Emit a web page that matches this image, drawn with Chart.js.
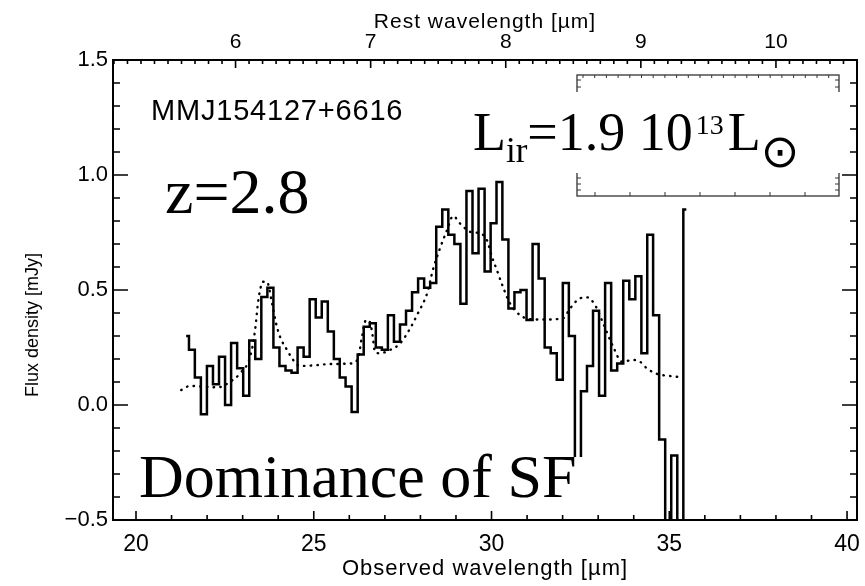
<!DOCTYPE html>
<html>
<head>
<meta charset="utf-8">
<script src="https://cdn.jsdelivr.net/npm/chart.js@4.4.1/dist/chart.umd.min.js"></script>
<style>
  html, body { margin: 0; padding: 0; background: #fff; }
</style>
</head>
<body>
<canvas id="spectrum" width="865" height="586"></canvas>
<script>
// Observed wavelength of each spectral bin [micron]
var wavelength = [21.41, 21.57, 21.74, 21.91, 22.08, 22.25, 22.42, 22.59, 22.76, 22.93,
                  23.10, 23.27, 23.44, 23.61, 23.78, 23.95, 24.12, 24.29, 24.46, 24.63,
                  24.80, 24.97, 25.14, 25.31, 25.48, 25.65, 25.81, 25.98, 26.15, 26.32,
                  26.49, 26.66, 26.83, 27.00, 27.17, 27.34, 27.51, 27.68, 27.85, 28.02,
                  28.19, 28.36, 28.53, 28.70, 28.87, 29.04, 29.21, 29.38, 29.55, 29.72,
                  29.89, 30.06, 30.22, 30.39, 30.56, 30.73, 30.90, 31.07, 31.24, 31.41,
                  31.58, 31.75, 31.92, 32.09, 32.26, 32.43, 32.60, 32.77, 32.94, 33.11,
                  33.28, 33.45, 33.62, 33.79, 33.96, 34.13, 34.30, 34.46, 34.63, 34.80,
                  34.97, 35.14, 35.31, 35.48];

// Flux density per bin [mJy]
var flux = [0.30, 0.24, 0.12, -0.04, 0.17, 0.09, 0.21, 0.00, 0.27, 0.16,
            0.04, 0.28, 0.20, 0.47, 0.51, 0.25, 0.17, 0.15, 0.14, 0.25,
            0.21, 0.46, 0.38, 0.45, 0.32, 0.20, 0.12, 0.08, -0.03, 0.22,
            0.34, 0.355, 0.25, 0.24, 0.39, 0.275, 0.35, 0.41, 0.49, 0.55,
            0.51, 0.53, 0.775, 0.85, 0.74, 0.70, 0.44, 0.93, 0.66, 0.94,
            0.58, 0.79, 0.97, 0.72, 0.42, 0.49, 0.50, 0.37, 0.70, 0.55,
            0.25, 0.225, 0.11, 0.53, 0.30, -0.40, 0.06, 0.17, 0.41, 0.04,
            0.53, 0.15, 0.18, 0.54, 0.46, 0.56, 0.225, 0.74, 0.39, -0.15,
            -0.60, -0.22, -0.60, 0.85];

// Starburst template shifted to z = 2.8
var modelWave = [21.27, 21.52, 21.88, 22.31, 22.64, 22.93, 23.21, 23.35, 23.43, 23.49,
                 23.57, 23.68, 23.83, 23.94, 24.05, 24.25, 24.42, 24.61, 24.98, 25.46,
                 26.02, 26.24, 26.36, 26.47, 26.58, 26.66, 26.72, 26.86, 27.14, 27.43,
                 27.71, 27.93, 28.19, 28.35, 28.55, 28.75, 28.92, 29.11, 29.40, 29.68,
                 29.87, 30.01, 30.15, 30.32, 30.52, 30.80, 31.17, 31.56, 32.01, 32.21,
                 32.49, 32.69, 32.91, 33.14, 33.42, 33.67, 33.98, 34.18, 34.37, 34.66,
                 35.02, 35.39];
var modelFlux = [0.065, 0.083, 0.080, 0.077, 0.100, 0.138, 0.210, 0.326, 0.442, 0.500,
                 0.536, 0.536, 0.440, 0.355, 0.297, 0.239, 0.196, 0.170, 0.172, 0.178,
                 0.180, 0.200, 0.300, 0.370, 0.360, 0.297, 0.230, 0.225, 0.239, 0.268,
                 0.333, 0.399, 0.486, 0.587, 0.681, 0.761, 0.822, 0.790, 0.753, 0.746,
                 0.717, 0.645, 0.587, 0.514, 0.442, 0.391, 0.372, 0.372, 0.377, 0.420,
                 0.464, 0.468, 0.435, 0.355, 0.254, 0.188, 0.196, 0.188, 0.159, 0.135,
                 0.126, 0.120];

var redshift = 2.8;
var xTicks = [20, 25, 30, 35, 40];
var yTicks = [-0.5, 0.0, 0.5, 1.0, 1.5];
var restTicks = [6, 7, 8, 9, 10];

var SANS = '"Liberation Sans", Arial, sans-serif';
var SERIF = '"Liberation Serif", "Times New Roman", serif';

function points(xs, ys) {
    return xs.map(function (x, i) { return { x: x, y: ys[i] }; });
}

function tickLabel(v) {
    return (v < 0 ? '\u2212' : '') + Math.abs(v).toFixed(1);
}

// small overview panel in the upper right, mostly hidden behind the luminosity label
function drawInset(ctx) {
    var l = 577, t = 75, r = 839, b = 196;
    ctx.strokeStyle = '#333';
    ctx.lineWidth = 1.3;
    ctx.strokeRect(l, t, r - l, b - t);
    ctx.lineWidth = 1;
    ctx.beginPath();
    for (var x = l + 6; x < r; x += 11.7) { ctx.moveTo(x, t); ctx.lineTo(x, t + 3); }
    for (var x2 = l + 18; x2 < r; x2 += 35) { ctx.moveTo(x2, b); ctx.lineTo(x2, b - 4); }
    [80, 87, 178, 184, 190].forEach(function (y) {
        ctx.moveTo(l, y); ctx.lineTo(l + 4, y);
        ctx.moveTo(r, y); ctx.lineTo(r - 4, y);
    });
    ctx.stroke();
}

var frame = {
    id: 'frame',
    afterDraw: function (chart) {
        var ctx = chart.ctx, a = chart.chartArea;
        var xs = chart.scales.x, ys = chart.scales.y;
        ctx.save();

        // label backgrounds
        ctx.fillStyle = '#fff';
        ctx.fillRect(135, 457, 462, 51);

        drawInset(ctx);
        ctx.fillStyle = '#fff';
        ctx.fillRect(466, 92, 377, 81);

        ctx.fillStyle = '#000';
        ctx.textBaseline = 'alphabetic';
        ctx.textAlign = 'left';

        ctx.font = '29px ' + SANS;
        ctx.letterSpacing = '0.8px';
        ctx.fillText('MMJ154127+6616', 151, 120);
        ctx.letterSpacing = '0px';

        ctx.font = '64px ' + SERIF;
        ctx.fillText('z=2.8', 165, 213);

        ctx.font = '62px ' + SERIF;
        ctx.fillText('Dominance of SF', 139, 497);

        // L_ir = 1.9 10^13 L_sun
        var x = 473, base = 150;
        ctx.font = '54px ' + SERIF;
        ctx.fillText('L', x, base); x += ctx.measureText('L').width;
        ctx.font = '35px ' + SERIF;
        ctx.fillText('ir', x, base + 12); x += ctx.measureText('ir').width;
        ctx.font = '54px ' + SERIF;
        ctx.fillText('=1.9 10', x, base); x += ctx.measureText('=1.9 10').width + 3;
        ctx.font = '28px ' + SERIF;
        ctx.fillText('13', x, base - 16); x += ctx.measureText('13').width + 4;
        ctx.font = '54px ' + SERIF;
        ctx.fillText('L', x, base); x += ctx.measureText('L').width;
        ctx.font = '46px "DejaVu Sans"';
        ctx.fillText('\u2299', x, base + 17);

        // axes box
        ctx.strokeStyle = '#000';
        ctx.lineWidth = 2;
        ctx.strokeRect(a.left, a.top, a.right - a.left, a.bottom - a.top);

        // inward ticks
        ctx.lineWidth = 1.6;
        ctx.beginPath();
        var v, px, len;
        for (v = 20; v <= 40; v++) {
            px = xs.getPixelForValue(v);
            len = (v % 5 === 0) ? 9 : 5;
            ctx.moveTo(px, a.bottom); ctx.lineTo(px, a.bottom - len);
        }
        for (var k = 51; k <= 106; k++) {
            px = xs.getPixelForValue(k / 10 * (1 + redshift));
            if (px < a.left || px > a.right) continue;
            len = (k % 10 === 0) ? 8 : 4;
            ctx.moveTo(px, a.top); ctx.lineTo(px, a.top + len);
        }
        for (k = -5; k <= 15; k++) {
            px = ys.getPixelForValue(k / 10);
            len = (k % 5 === 0) ? 15 : 7;
            ctx.moveTo(a.left, px); ctx.lineTo(a.left + len, px);
            ctx.moveTo(a.right, px); ctx.lineTo(a.right - len, px);
        }
        ctx.stroke();

        // tick labels
        ctx.textBaseline = 'middle';
        ctx.textAlign = 'center';
        ctx.font = '23px ' + SANS;
        xTicks.forEach(function (t) {
            ctx.fillText(String(t), xs.getPixelForValue(t), a.bottom + 25);
        });
        ctx.font = '21px ' + SANS;
        restTicks.forEach(function (t) {
            ctx.fillText(String(t), xs.getPixelForValue(t * (1 + redshift)), a.top - 18);
        });
        ctx.textAlign = 'right';
        ctx.font = '22px ' + SANS;
        yTicks.forEach(function (t) {
            ctx.fillText(tickLabel(t), a.left - 5, ys.getPixelForValue(t));
        });

        // axis titles
        ctx.textAlign = 'center';
        ctx.letterSpacing = '1px';
        ctx.font = '22px ' + SANS;
        ctx.fillText('Observed wavelength [\u00b5m]', (a.left + a.right) / 2, a.bottom + 49);
        ctx.font = '21px ' + SANS;
        ctx.fillText('Rest wavelength [\u00b5m]', (a.left + a.right) / 2, a.top - 38);
        ctx.letterSpacing = '0px';
        ctx.translate(33, 325);
        ctx.rotate(-Math.PI / 2);
        ctx.font = '18px ' + SANS;
        ctx.fillText('Flux density [mJy]', 0, 0);

        ctx.restore();
    }
};

new Chart(document.getElementById('spectrum'), {
    type: 'line',
    data: {
        datasets: [
            {
                label: 'MMJ154127+6616',
                data: points(wavelength, flux),
                stepped: 'middle',
                borderColor: '#000',
                borderWidth: 2.5,
                pointRadius: 0,
                fill: false
            },
            {
                label: 'starburst template',
                data: points(modelWave, modelFlux),
                borderColor: '#000',
                borderWidth: 2.4,
                borderDash: [0.5, 6.2],
                borderCapStyle: 'round',
                cubicInterpolationMode: 'monotone',
                pointRadius: 0,
                fill: false
            }
        ]
    },
    options: {
        responsive: false,
        animation: false,
        devicePixelRatio: 1,
        layout: { padding: { left: 113, right: 8, top: 60, bottom: 66 } },
        scales: {
            x: { type: 'linear', min: 19.353, max: 40.28, display: false },
            y: { type: 'linear', min: -0.5, max: 1.5, display: false }
        },
        plugins: {
            legend: { display: false },
            tooltip: { enabled: false }
        }
    },
    plugins: [frame]
});
</script>
</body>
</html>
